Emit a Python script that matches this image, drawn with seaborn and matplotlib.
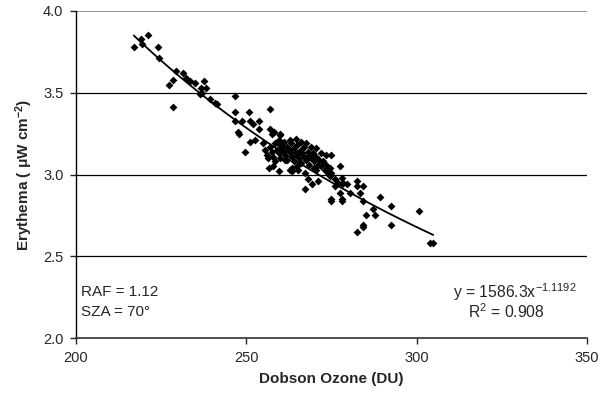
import matplotlib
matplotlib.use("Agg")
import matplotlib.pyplot as plt
import seaborn as sns
import pandas as pd
import numpy as np

# Dobson ozone (DU) and erythema values
ozone = [
    217.0, 219.1, 219.3, 221.2, 224.2, 224.4, 227.2, 228.4, 228.4, 229.3,
    231.5, 232.3, 233.5, 234.9, 236.7, 237.6, 238.3, 237.1, 236.4, 239.3,
    240.8, 241.3, 246.7, 246.7, 250.9, 256.9, 246.7, 248.8, 251.1, 252.0,
    253.7, 253.8, 247.6, 247.8, 251.1, 252.5, 249.6, 254.8, 256.9, 257.7,
    259.9, 259.9, 259.7, 258.1,
    255.5, 256.0, 256.5, 257.0, 257.5, 258.0, 258.5, 258.5, 259.0, 259.5,
    260.0, 260.0, 260.5, 261.0, 261.0, 261.5, 262.0, 262.0, 262.5, 263.0,
    263.0, 263.5, 264.0, 264.0, 264.5, 265.0, 265.0, 265.5, 266.0, 266.0,
    266.5, 267.0, 267.0, 267.5, 268.0, 268.5, 268.5, 269.0, 269.5, 270.0,
    270.0, 270.5, 271.0, 271.5, 272.0, 272.5, 273.0, 273.5, 274.0, 274.5,
    258.0, 256.8, 259.5, 261.3, 260.9, 263.3, 263.3, 265.3, 262.8, 264.8,
    267.2, 270.6, 262.8, 264.5, 266.0, 267.5, 269.0, 270.5, 272.0, 273.5,
    275.0, 277.5, 275.0, 274.5, 268.2, 267.2, 269.2, 271.1, 276.0, 277.0,
    278.0, 276.0, 277.5, 278.0, 278.0, 275.0, 275.0, 280.4, 282.4, 282.4,
    284.3, 283.4, 284.3, 285.3, 287.3, 287.8, 289.4, 292.4, 284.3, 284.3,
    282.4, 292.4, 300.7, 303.9, 304.9, 278.0, 278.5, 279.5,
]
erythema = [
    3.78, 3.83, 3.80, 3.85, 3.78, 3.71, 3.55, 3.58, 3.41, 3.63,
    3.62, 3.59, 3.57, 3.56, 3.53, 3.57, 3.53, 3.50, 3.49, 3.46,
    3.44, 3.43, 3.48, 3.38, 3.38, 3.40, 3.33, 3.33, 3.33, 3.31,
    3.33, 3.28, 3.26, 3.25, 3.20, 3.21, 3.14, 3.19, 3.28, 3.25,
    3.25, 3.24, 3.21, 3.26,
    3.15, 3.12, 3.10, 3.17, 3.14, 3.11, 3.19, 3.08, 3.15, 3.13,
    3.18, 3.10, 3.16, 3.14, 3.20, 3.12, 3.17, 3.09, 3.15, 3.13,
    3.19, 3.11, 3.16, 3.08, 3.14, 3.12, 3.18, 3.10, 3.15, 3.07,
    3.13, 3.11, 3.17, 3.09, 3.14, 3.12, 3.06, 3.10, 3.13, 3.08,
    3.04, 3.11, 3.06, 3.09, 3.05, 3.08, 3.03, 3.06, 3.01, 3.04,
    3.05, 3.04, 3.02, 3.09, 3.17, 3.04, 3.02, 3.03, 3.03, 3.05,
    3.01, 3.03, 3.21, 3.22, 3.20, 3.19, 3.17, 3.16, 3.13, 3.12,
    3.12, 3.05, 3.01, 2.99, 2.97, 2.91, 2.94, 2.96, 2.97, 2.95,
    2.94, 2.93, 2.89, 2.85, 2.84, 2.85, 2.84, 2.89, 2.96, 2.93,
    2.93, 2.89, 2.84, 2.75, 2.79, 2.75, 2.86, 2.81, 2.69, 2.68,
    2.65, 2.69, 2.78, 2.58, 2.58, 2.98, 2.95, 2.94,
]

# power-law trendline from the chart
fit_a = 1586.3
fit_b = -1.1192
fit_r2 = 0.908

sns.set_style("white")
plt.rcParams['font.family'] = ['Liberation Sans', 'DejaVu Sans']
plt.rcParams['mathtext.fontset'] = 'custom'
plt.rcParams['mathtext.rm'] = 'Liberation Sans'
plt.rcParams['mathtext.bf'] = 'Liberation Sans:bold'
plt.rcParams['mathtext.default'] = 'rm'

df = pd.DataFrame({"ozone": ozone, "erythema": erythema})
xs = np.linspace(min(ozone), max(ozone), 100)
fit = pd.DataFrame({"ozone": xs, "erythema": fit_a * xs ** fit_b})

fig = plt.figure(figsize=(6.12, 4.04), dpi=100)
ax = fig.add_axes([0.124, 0.163, 0.835, 0.81])

for yv in [2.5, 3.0, 3.5]:
    ax.axhline(yv, color="black", lw=0.9, zorder=0)
ax.axhline(4.0, color="#808080", lw=1.2, zorder=0)

sns.scatterplot(data=df, x="ozone", y="erythema", marker="D", s=16,
                color="black", edgecolor="black", linewidth=0, ax=ax)
sns.lineplot(data=fit, x="ozone", y="erythema", color="black", lw=1.3, ax=ax)

ax.set_xlim(200, 350)
ax.set_ylim(2.0, 4.0)
ax.set_xticks([200, 250, 300, 350])
ax.set_yticks([2.0, 2.5, 3.0, 3.5, 4.0])
ax.set_yticklabels(["2.0", "2.5", "3.0", "3.5", "4.0"])

for s in ["top", "right"]:
    ax.spines[s].set_visible(False)
ax.spines["left"].set_color("black")
ax.spines["bottom"].set_color("#404040")
ax.spines["left"].set_linewidth(1.0)
ax.spines["bottom"].set_linewidth(1.3)
ax.tick_params(axis="both", direction="out", length=4, width=1,
               labelsize=10.5, bottom=True, left=True, pad=5)

ax.set_xlabel("Dobson Ozone (DU)", fontsize=11, fontweight="bold", labelpad=5)
ax.set_ylabel(r"Erythema ( $\mathbf{\mu}$W cm$^{\mathbf{-2}}$)", fontsize=11,
              fontweight="bold", labelpad=6)

ax.text(201.5, 2.28, "RAF = 1.12", fontsize=11, va="center")
ax.text(201.5, 2.16, "SZA = 70°", fontsize=11, va="center")
ax.text(347, 2.28, r"y = 1586.3x$^{-1.1192}$", fontsize=11.3, ha="right", va="center")
ax.text(337.5, 2.16, "R$^{2}$ = %.3f" % fit_r2, fontsize=11.3, ha="right", va="center")

plt.savefig("out.png", dpi=100)
